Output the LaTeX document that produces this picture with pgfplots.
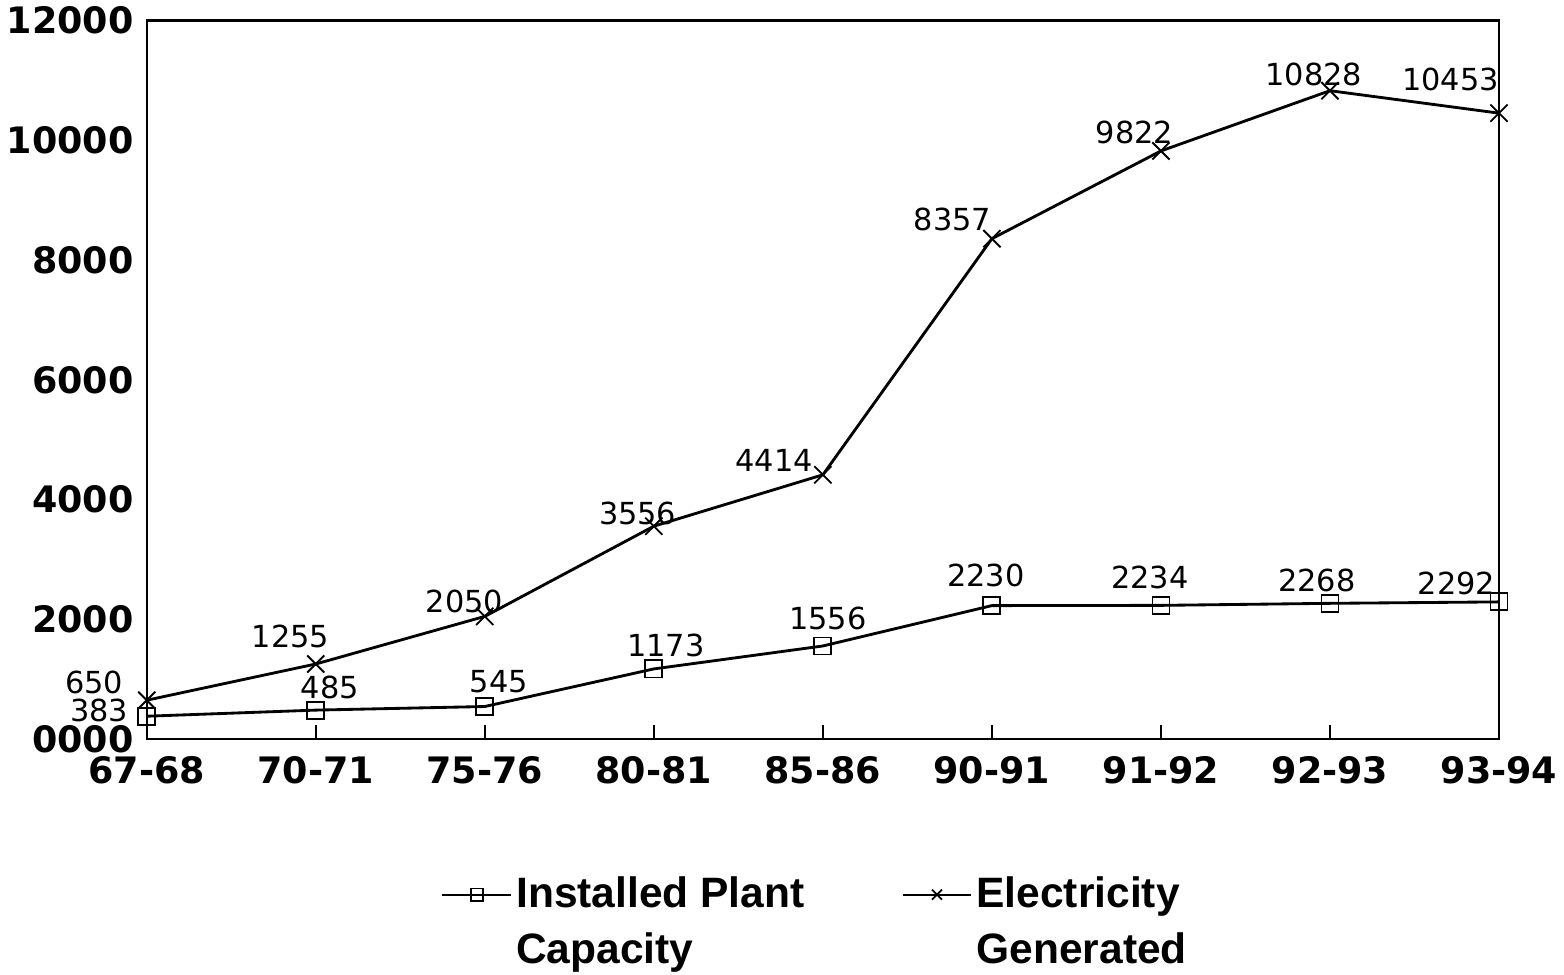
\documentclass[border=0pt]{standalone}
\usepackage{pgfplots}
\pgfplotsset{compat=1.18}
\usepackage{pgfplotstable}
\usepackage{fontspec}
\setmainfont{DejaVu Sans}
\newfontfamily\legfont{Liberation Sans}

\pgfplotstableread{
x y dx dy
0 650 -26 9
1 1255 -12.5 13.5
2 2050 -10 7.5
3 3556 -8 6.5
4 4414 -24 7
5 8357 -19.5 9.5
6 9822 -13 9
7 10828 -8 8
8 10453 -24 16.5
}\elec

\pgfplotstableread{
x y dx dy
0 383 -23.5 3
1 485 7 11
2 545 7 12.5
3 1173 6 11.5
4 1556 2.5 13.5
5 2230 -3 15
6 2234 -5.5 14
7 2268 -6.5 11.5
8 2292 -21 9
}\cap

\begin{document}
\begin{tikzpicture}
\begin{axis}[
  scale only axis,
  width=668pt, height=355pt,
  xmin=0, xmax=8, ymin=0, ymax=12000,
  scaled y ticks=false,
  xtick={0,...,8},
  xticklabels={67-68,70-71,75-76,80-81,85-86,90-91,91-92,92-93,93-94},
  ytick={0,2000,4000,6000,8000,10000,12000},
  yticklabels={0000,2000,4000,6000,8000,10000,12000},
  tick label style={font=\fontsize{18}{20}\selectfont\bfseries, text=black},
  xticklabel style={yshift=-5pt},
  yticklabel style={xshift=-3pt},
  xtick pos=bottom, ytick pos=left, tick align=inside,
  major tick length=7pt,
  ytick style={draw=none},
  xtick style={line width=1pt, black},
  axis line style={line width=1pt},
  clip=false,
  legend columns=2,
  legend style={
    draw=none, fill=none,
    at={(0.495,-0.18)}, anchor=north,
    font=\legfont\fontsize{21}{27.5}\selectfont\bfseries,
    nodes={align=left, anchor=base west},
    /tikz/every even column/.append style={column sep=46pt},
  },
  legend cell align=left,
  legend image code/.code={
    \draw[mark repeat=2,mark phase=2,#1] plot coordinates {(0pt,34pt)(17pt,34pt)(34pt,34pt)};
  },
]
\addplot[black, line width=1.4pt, mark=square, mark size=4.2pt,
  mark options={fill=white, line width=0.9pt},
  nodes near coords, point meta=explicit symbolic,
  visualization depends on={\thisrow{dx} \as \dx},
  visualization depends on={\thisrow{dy} \as \dy},
  every node near coord/.append style={anchor=center, xshift=\dx pt, yshift=\dy pt,
    font=\fontsize{15}{15}\selectfont, text=black},
  legend image post style={mark size=3pt, line width=1pt},
] table[x=x, y=y, meta=y] {\cap};
\addlegendentry{Installed Plant\\Capacity}
\addplot[black, line width=1.4pt, mark=x, mark size=6pt,
  mark options={line width=0.9pt},
  nodes near coords, point meta=explicit symbolic,
  visualization depends on={\thisrow{dx} \as \dx},
  visualization depends on={\thisrow{dy} \as \dy},
  every node near coord/.append style={anchor=center, xshift=\dx pt, yshift=\dy pt,
    font=\fontsize{15}{15}\selectfont, text=black},
  legend image post style={mark size=3.5pt, line width=1pt},
] table[x=x, y=y, meta=y] {\elec};
\addlegendentry{Electricity\\Generated}
\end{axis}
\end{tikzpicture}
\end{document}
